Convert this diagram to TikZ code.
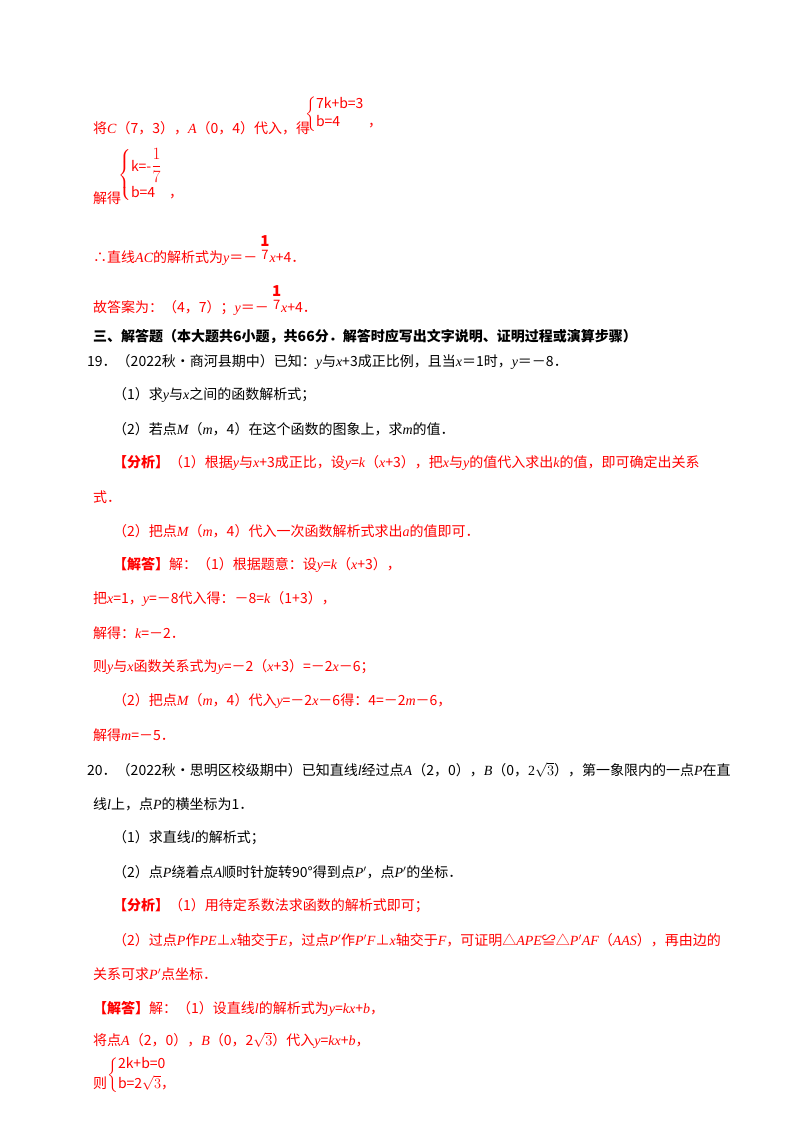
\documentclass[tikz,border=0pt]{standalone}
\usepackage{amsmath}
\usepackage{fontspec}
\setmainfont{Noto Sans CJK SC}
\newfontfamily\lat{Liberation Serif}
\newcommand{\m}[1]{{\lat\itshape #1}}
\newcommand{\n}[1]{{\lat #1}}
\newcommand{\sev}{\raisebox{9pt}{\begin{tabular}{@{}c@{}}\fontsize{15}{16}\selectfont\textbf{1}\\[-3pt]\fontsize{13}{14}\selectfont 7\end{tabular}}}
\definecolor{ans}{RGB}{255,0,0}
\begin{document}
\begin{tikzpicture}[x=1pt,y=-1pt,
  t/.style={anchor=west,inner sep=0pt,font=\fontsize{14}{16}\selectfont},
  r/.style={t,text=ans}]
\useasboundingbox (0,0) rectangle (800,1132);
% top
\node[r] (a1) at (93,128) {将\m{C}（7，3），\m{A}（0，4）代入，得};
\node[r] (a2) at (305,114) {$\left\{\begin{tabular}{@{}l@{}}7k+b=3\\[2pt] b=4\qquad ，\end{tabular}\right.$};
\node[r] (a3) at (93,198) {解得};
\node[r] (a4) at (118,175) {$\left\{\begin{tabular}{@{}l@{}}k=-\fontsize{18}{20}\selectfont$\dfrac{1}{7}$\\[10pt] b=4\quad ，\end{tabular}\right.$};
\node[r] (a5) at (93,250) {∴直线\m{AC}的解析式为\m{y}＝－ \sev\m{x}+4．};
\node[r] (a6) at (93,300) {故答案为：（4，7）；\m{y}＝－ \sev\m{x}+4．};
% heading
\node[t,font=\fontsize{14}{16}\selectfont\bfseries] (h) at (93,336) {三、解答题（本大题共6小题，共66分．解答时应写出文字说明、证明过程或演算步骤）};
% 19
\node[t] (q19) at (87,362) {19．（2022秋•商河县期中）已知：\m{y}与\m{x}+3成正比例，且当\m{x}＝1时，\m{y}＝－8．};
\node[t] (q1) at (113,395) {（1）求\m{y}与\m{x}之间的函数解析式；};
\node[t] (q2) at (113,429) {（2）若点\m{M}（\m{m}，4）在这个函数的图象上，求\m{m}的值．};
\node[r] (b1) at (113,463) {\textbf{【分析】}（1）根据\m{y}与\m{x}+3成正比，设\m{y}=\m{k}（\m{x}+3），把\m{x}与\m{y}的值代入求出\m{k}的值，即可确定出关系};
\node[r] (b2) at (93,497) {式．};
\node[r] (b3) at (113,531) {（2）把点\m{M}（\m{m}，4）代入一次函数解析式求出\m{a}的值即可．};
\node[r] (b4) at (113,565) {\textbf{【解答】}解：（1）根据题意：设\m{y}=\m{k}（\m{x}+3），};
\node[r] (b5) at (93,599) {把\m{x}=1，\m{y}=－8代入得：－8=\m{k}（1+3），};
\node[r] (b6) at (93,633) {解得：\m{k}=－2．};
\node[r] (b7) at (93,667) {则\m{y}与\m{x}函数关系式为\m{y}=－2（\m{x}+3）=－2\m{x}－6；};
\node[r] (b8) at (113,701) {（2）把点\m{M}（\m{m}，4）代入\m{y}=－2\m{x}－6得：4=－2\m{m}－6，};
\node[r] (b9) at (93,735) {解得\m{m}=－5．};
% 20
\node[t] (q20) at (87,770) {20．（2022秋•思明区校级期中）已知直线\m{l}经过点\m{A}（2，0），\m{B}（0，\n{2$\sqrt{3}$}），第一象限内的一点\m{P}在直};
\node[t] (q21) at (93,804) {线\m{l}上，点\m{P}的横坐标为1．};
\node[t] (q22) at (113,838) {（1）求直线\m{l}的解析式；};
\node[t] (q23) at (113,872) {（2）点\m{P}绕着点\m{A}顺时针旋转90°得到点\m{P}$'$，点\m{P}$'$的坐标．};
\node[r] (c1) at (113,906) {\textbf{【分析】}（1）用待定系数法求函数的解析式即可；};
\node[r] (c2) at (113,940) {（2）过点\m{P}作\m{PE}⊥\m{x}轴交于\m{E}，过点\m{P}$'$作\m{P}$'$\m{F}⊥\m{x}轴交于\m{F}，可证明△\m{APE}≌△\m{P}$'$\m{AF}（\m{AAS}），再由边的};
\node[r] (c3) at (93,974) {关系可求\m{P}$'$点坐标．};
\node[r] (c4) at (93,1009) {\textbf{【解答】}解：（1）设直线\m{l}的解析式为\m{y}=\m{kx}+\m{b}，};
\node[r] (c5) at (93,1040) {将点\m{A}（2，0），\m{B}（0，2$\sqrt{3}$）代入\m{y}=\m{kx}+\m{b}，};
\node[r] (c6) at (93,1083) {则};
\node[r] (c7) at (107,1075) {$\left\{\begin{tabular}{@{}l@{}}2k+b=0\\[2pt] b=2$\sqrt{3}$，\end{tabular}\right.$};
\end{tikzpicture}
\end{document}
